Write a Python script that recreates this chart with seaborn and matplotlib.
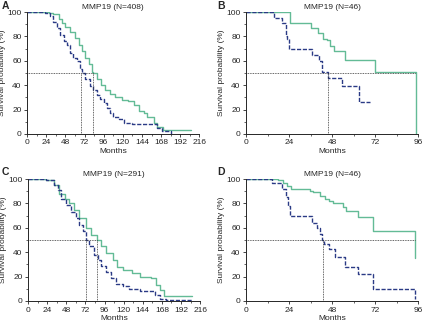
import numpy as np
import pandas as pd
import seaborn as sns
import matplotlib.pyplot as plt
from matplotlib.ticker import MultipleLocator

# panel A (N=408)
a_low_t = [0, 22.6, 29, 33, 37, 41, 46, 50, 54, 58, 62.4, 66.5, 68.6, 73, 79, 83, 87.5, 91.6, 96, 100, 104, 108, 115, 121, 131, 157, 163, 169, 180]
a_low_s = [100, 99, 97, 92, 87, 81, 76, 73, 66, 62, 60, 53, 50, 45, 39, 36, 32, 29, 25, 21, 17, 14, 12, 9, 8, 8, 5, 2, 0]
a_high_t = [0, 27, 33, 39.3, 43.5, 48, 54, 60, 64.4, 68.6, 73, 77, 81, 83, 87.5, 92, 98, 104, 110, 119, 127, 134, 140, 146, 150, 159, 163, 171, 206]
a_high_s = [100, 99, 98, 94, 91, 88, 84, 79, 73, 68, 62, 57, 51, 50, 45, 40, 36, 33, 30, 28, 27, 24, 19, 17, 14, 9, 6, 3, 3]

# panel B (N=46)
b_low_t = [0, 15.5, 20, 22, 23, 24, 37, 40.5, 42.5, 45.5, 53.5, 63, 69]
b_low_s = [100, 95, 91, 80, 78, 70, 65, 60, 51, 46, 39, 26, 26]
b_high_t = [0, 24.5, 36, 40, 43, 45, 47, 49, 55, 72, 95]
b_high_s = [100, 91, 87, 83, 78, 77, 72, 68, 61, 51, 0]

# panel C (N=291)
c_low_t = [0, 22.6, 33, 37, 41, 48, 54, 60, 64.4, 68.6, 73, 77, 83, 87.5, 92, 98, 104, 110, 119, 127, 140, 152, 159, 165, 173, 206]
c_low_s = [100, 99, 95, 91, 84, 79, 73, 68, 62, 57, 50, 45, 38, 34, 29, 24, 19, 14, 12, 10, 8, 8, 5, 2, 0.5, 0.5]
c_high_t = [0, 22.6, 33, 39, 46, 52, 58, 64, 73, 79, 86, 92, 98, 106, 112, 119, 131, 140, 154, 161, 165, 171, 206]
c_high_s = [100, 99, 95, 88, 84, 80, 75, 68, 60, 54, 50, 45, 39, 34, 28, 25, 23, 20, 19, 13, 9, 4, 4]

# panel D (N=46)
d_low_t = [0, 14.7, 20, 22, 23.5, 24.4, 36.7, 39.5, 41, 42.5, 43.5, 46, 49.5, 55, 62.4, 71, 94]
d_low_s = [100, 97, 92, 85, 78, 70, 64, 60, 55, 50, 47, 43, 36, 28, 22, 10, 2]
d_high_t = [0, 18, 20.7, 23, 24.8, 35.8, 37.6, 41.3, 44, 46, 48.6, 54, 56, 62.4, 71, 94]
d_high_s = [100, 99, 97, 94, 92, 90, 89, 86, 84, 82, 80, 77, 74, 69, 57, 35]

panels = [
    ("A", "MMP19 (N=408)", a_low_t, a_low_s, a_high_t, a_high_s, 216, [68, 83]),
    ("B", "MMP19 (N=46)", b_low_t, b_low_s, b_high_t, b_high_s, 96, [45.5, 95]),
    ("C", "MMP19 (N=291)", c_low_t, c_low_s, c_high_t, c_high_s, 216, [73, 86.5]),
    ("D", "MMP19 (N=46)", d_low_t, d_low_s, d_high_t, d_high_s, 96, [43, 94]),
]

sns.set_style("ticks")
plt.rcParams['font.family'] = ['Liberation Sans', 'DejaVu Sans']

green = "#63bb96"
blue = "#2a3a85"

fig = plt.figure(figsize=(4.25, 3.25), dpi=100)
pos = [(0.064, 0.588), (0.579, 0.588), (0.066, 0.074), (0.579, 0.074)]
letter_pos = [(2, 6), (217, 6), (2, 172), (217, 172)]

for (letter, title, lt, ls, ht, hs, xmax, med), (x0, y0), (lx, ly) in zip(panels, pos, letter_pos):
    ax = fig.add_axes([x0, y0, 0.405, 0.375])
    sns.lineplot(x=ht, y=hs, ax=ax, color=green, lw=1.0, drawstyle="steps-post")
    sns.lineplot(x=lt, y=ls, ax=ax, color=blue, lw=1.0, drawstyle="steps-post",
                 linestyle=(0, (3, 1.2)))
    # median lines
    ax.plot([0, max(med)], [50, 50], color="#333333", lw=0.6, ls=(0, (1, 1)))
    for m in med:
        if m < xmax - 2:
            ax.plot([m, m], [0, 50], color="#333333", lw=0.6, ls=(0, (1, 1)))

    ax.set_xlim(0, xmax)
    ax.set_ylim(0, 100)
    ax.xaxis.set_major_locator(MultipleLocator(24))
    ax.xaxis.set_minor_locator(MultipleLocator(12))
    ax.yaxis.set_major_locator(MultipleLocator(20))
    ax.yaxis.set_minor_locator(MultipleLocator(10))
    ax.tick_params(which="major", labelsize=6, length=2.5, width=0.6, pad=1.5)
    ax.tick_params(which="minor", length=1.5, width=0.5)
    for s in ["left", "bottom"]:
        ax.spines[s].set_linewidth(0.7)
    sns.despine(ax=ax)
    ax.set_xlabel("Months", fontsize=6, labelpad=1)
    ax.set_ylabel("Survival probability (%)", fontsize=6, labelpad=1)
    ax.set_title(title, fontsize=6, pad=2)
    fig.text(lx / 425, 1 - ly / 325, letter, fontsize=7.5, fontweight="bold",
             va="center", ha="left")

fig.savefig("out.png", dpi=100)
